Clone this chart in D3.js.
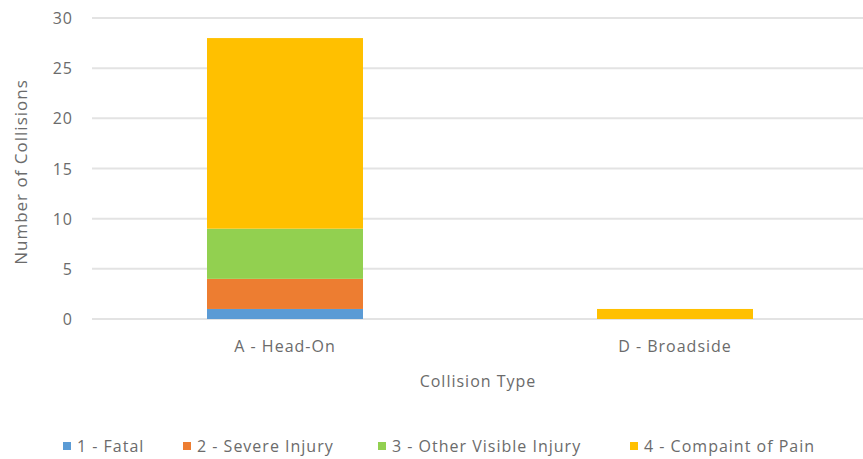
<!DOCTYPE html>
<html><head><meta charset="utf-8">
<script src="https://cdn.jsdelivr.net/npm/d3@7"></script>
<style>body{margin:0;background:#fff}svg{display:block}</style>
</head><body>
<svg id="c" width="863" height="459"></svg>
<script>
const categories = ["A - Head-On", "D - Broadside"];
const seriesNames = ["1 - Fatal", "2 - Severe Injury", "3 - Other Visible Injury", "4 - Compaint of Pain"];
const fatal = [1, 0];
const severe = [3, 0];
const otherVisible = [5, 0];
const complaint = [19, 1];
const yTicks = [0, 5, 10, 15, 20, 25, 30];
const colors = ["#5B9BD5", "#ED7D31", "#92D050", "#FFC000"];

const seriesValues = [fatal, severe, otherVisible, complaint];
const rows = categories.map((c, i) => {
  const r = {cat: c};
  seriesNames.forEach((s, j) => r[s] = seriesValues[j][i]);
  return r;
});
const stacked = d3.stack().keys(seriesNames)(rows);

const svg = d3.select("#c");
const font = "'Open Sans', sans-serif";
const txt = "#6b6b6b";
const x = d3.scaleBand().domain(categories).range([90, 870]).paddingInner(0.6).paddingOuter(0.3);
const y = d3.scaleLinear().domain([0, 30]).range([319, 18]);

// gridlines
svg.append("g").selectAll("line").data(yTicks).join("line")
  .attr("x1", 92).attr("x2", 870)
  .attr("y1", d => y(d)).attr("y2", d => y(d))
  .attr("stroke", "#e3e3e3").attr("stroke-width", 2);

// y axis labels
const yAxis = d3.axisLeft(y).tickValues(yTicks).tickSize(0).tickPadding(0);
const ga = svg.append("g").attr("transform", "translate(73,0)").call(yAxis);
ga.select(".domain").remove();
ga.selectAll("text").attr("font-family", font).attr("font-size", 16).attr("letter-spacing", 1)
  .attr("fill", txt).attr("dy", "0.35em");

// bars
svg.append("g").selectAll("g").data(stacked).join("g")
  .attr("fill", (d, i) => colors[i])
  .selectAll("rect").data(d => d.filter(p => p[1] - p[0] > 0)).join("rect")
  .attr("x", d => x(d.data.cat)).attr("width", x.bandwidth())
  .attr("y", d => y(d[1])).attr("height", d => y(d[0]) - y(d[1]));

// x axis labels
const xAxis = d3.axisBottom(x).tickSize(0).tickPadding(0);
const gx = svg.append("g").attr("transform", "translate(0,341)").call(xAxis);
gx.select(".domain").remove();
gx.selectAll("text").attr("font-family", font).attr("font-size", 16).attr("letter-spacing", 1)
  .attr("fill", txt).attr("dy", "0.71em");

// axis titles
svg.append("text").attr("x", 478).attr("y", 387).attr("text-anchor", "middle")
  .attr("font-family", font).attr("font-size", 16).attr("letter-spacing", 1).attr("fill", txt).text("Collision Type");
svg.append("text").attr("transform", "translate(27,172) rotate(-90)").attr("text-anchor", "middle")
  .attr("font-family", font).attr("font-size", 17).attr("letter-spacing", 1).attr("fill", txt).text("Number of Collisions");

// legend
const legendX = [63, 183, 378, 630];
const lg = svg.append("g").selectAll("g").data(seriesNames).join("g")
  .attr("transform", (d, i) => `translate(${legendX[i]},446)`);
lg.append("rect").attr("x", 0).attr("y", -4).attr("width", 8).attr("height", 8).attr("fill", (d, i) => colors[i]);
lg.append("text").attr("x", 14).attr("y", 0).attr("dy", "0.35em")
  .attr("font-family", font).attr("font-size", 16).attr("letter-spacing", 1)
  .attr("fill", txt).text(d => d);
</script>
</body></html>
